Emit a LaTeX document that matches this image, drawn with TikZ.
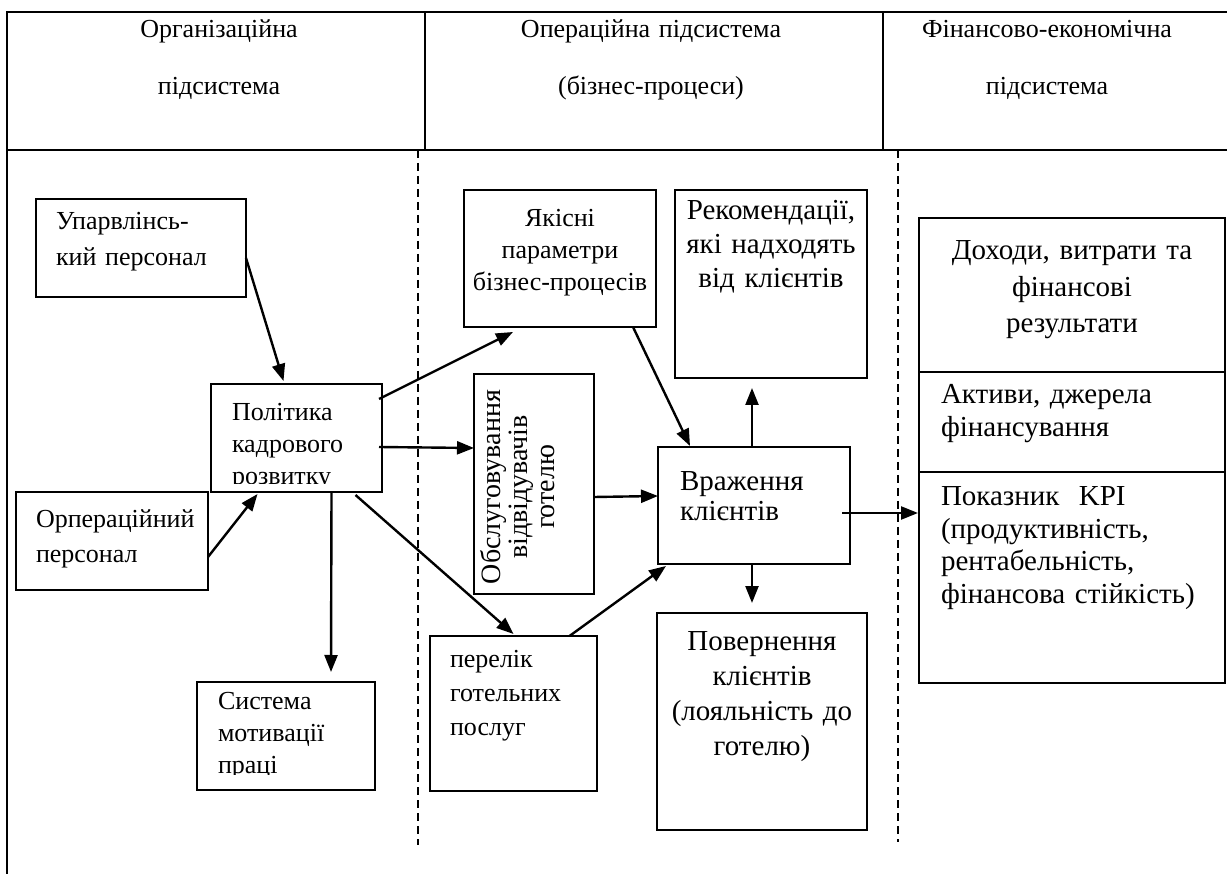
\documentclass[tikz,border=0pt]{standalone}
\usepackage{fontspec}
\setmainfont{Liberation Serif}
\usetikzlibrary{arrows.meta}
\begin{document}
\begin{tikzpicture}[x=1pt,y=-1pt,
  frame/.style={line width=2.2pt},
  sep/.style={line width=1.5pt,dash pattern=on 8pt off 5pt},
  box/.style={draw,line width=2pt,inner sep=0pt,outer sep=0pt},
  txt/.style={inner sep=0pt,outer sep=0pt,font=\fontsize{26}{#1}\selectfont,align=left,text width=200pt},
  ctxt/.style={inner sep=0pt,outer sep=0pt,font=\fontsize{26}{#1}\selectfont,align=center,text width=200pt},
  btxt/.style={inner sep=0pt,outer sep=0pt,font=\fontsize{29}{#1}\selectfont,align=left,text width=290pt},
  bctxt/.style={inner sep=0pt,outer sep=0pt,font=\fontsize{29}{#1}\selectfont,align=center,text width=300pt},
  htxt/.style={inner sep=0pt,outer sep=0pt,font=\fontsize{26}{57}\selectfont,align=center,text width=400pt},
  arr/.style={-{Triangle[length=17pt,width=13pt]},line width=2.4pt}]
\useasboundingbox (0,0) rectangle (1227,874);
% table frame
\draw[frame] (7,874) -- (7,12) -- (1227,12);
\draw[frame] (7,150) -- (1227,150);
\draw[frame] (425,12) -- (425,150);
\draw[frame] (883,12) -- (883,150);
% dashed separators
\draw[sep] (418,150) -- (418,845);
\draw[sep] (898,150) -- (898,842);
% header texts
\node[htxt,anchor=base] (h1) at (219,38) {Організаційна\\підсистема};
\node[htxt,anchor=base] (h2) at (651,38) {Операційна підсистема\\(бізнес-процеси)};
\node[htxt,anchor=base] (h3) at (1047,38) {Фінансово-економічна\\підсистема};
% boxes
\node[box,minimum width=210pt,minimum height=98pt] (upr) at (141,248) {};
\node[box,minimum width=171pt,minimum height=108pt] (pol) at (296.5,438) {};
\node[box,minimum width=192pt,minimum height=98pt] (orp) at (112,541) {};
\node[box,minimum width=178pt,minimum height=108pt] (sys) at (286,736) {};
\node[box,minimum width=192pt,minimum height=137pt] (yak) at (560,258.5) {};
\node[box,minimum width=192pt,minimum height=188pt] (rek) at (771,284) {};
\node[box,minimum width=120pt,minimum height=220pt] (obs) at (534,484) {};
\node[box,minimum width=192pt,minimum height=117pt] (vr) at (754,505.5) {};
\node[box,minimum width=167pt,minimum height=155pt] (per) at (513.5,713.5) {};
\node[box,minimum width=210pt,minimum height=217pt] (pov) at (762,721.5) {};
\node[box,minimum width=306pt,minimum height=465pt] (fin) at (1072,450.5) {};
\draw[line width=2pt] ([yshift=-154pt]fin.north west) -- ([yshift=-154pt]fin.north east);
\draw[line width=2pt] ([yshift=-254pt]fin.north west) -- ([yshift=-254pt]fin.north east);
% texts
\node[txt=36,anchor=base west] (uprt) at (56,230) {Упарвлінсь-\\кий персонал};
\begin{scope}
\clip (211,384) rectangle (382,484);
\node[txt=32,anchor=base west] (polt) at (232,421) {Політика\\кадрового\\розвитку};
\end{scope}
\node[txt=35,anchor=base west] (orpt) at (36,528) {Орпераційний\\персонал};
\begin{scope}
\clip (197,682) rectangle (375,774);
\node[txt=32,anchor=base west] (syst) at (218,709) {Система\\мотивації\\праці};
\end{scope}
\node[ctxt=32,anchor=base] (yakt) at (560,227) {Якісні\\параметри\\бізнес-процесів};
\node[bctxt=34,anchor=base] (rekt) at (771,220) {Рекомендації,\\які надходять\\від клієнтів};
\node[inner sep=0pt,font=\fontsize{28}{27}\selectfont,align=center,rotate=90] (obst) at (518,487) {Обслуговування\\відвідувачів\\готелю};
\node[btxt=31,anchor=base west] (vrt) at (680,490) {Враження\\клієнтів};
\node[txt=34,anchor=base west] (pert) at (450,667) {перелік\\готельних\\послуг};
\node[bctxt=35,anchor=base] (povt) at (762,650) {Повернення\\клієнтів\\(лояльність до\\готелю)};
\node[bctxt=36.5,anchor=base] (fint1) at (1072,260) {Доходи, витрати та\\фінансові\\результати};
\node[btxt=33,anchor=base west] (fint2) at (941,404) {Активи, джерела\\фінансування};
\node[btxt=33,anchor=base west] (fint3) at (941,505) {Показник~~KPI\\(продуктивність,\\рентабельність,\\фінансова стійкість)};
% arrows
\draw[arr] ([yshift=-10pt]upr.east) -- ([xshift=-13pt,yshift=3pt]pol.north);
\draw[arr] ([yshift=-16pt]orp.east) -- ([xshift=-39pt,yshift=-2pt]pol.south);
\draw[arr] ([xshift=-3pt,yshift=39pt]pol.east) -- ([xshift=-47pt,yshift=-5pt]yak.south);
\draw[arr] ([xshift=-3pt,yshift=-9pt]pol.east) -- ([yshift=36pt]obs.west);
\draw[arr] ([xshift=35pt]pol.south) -- ([xshift=45pt,yshift=10pt]sys.north);
\draw[arr] ([xshift=59pt,yshift=-3pt]pol.south) -- ([yshift=2pt]per.north);
\draw[arr] ([yshift=-13pt]obs.east) -- ([yshift=9.5pt]vr.west);
\draw[arr] ([xshift=73pt]yak.south) -- ([xshift=-64pt,yshift=1pt]vr.north);
\draw[arr] ([xshift=56pt]per.north) -- ([xshift=-88pt,yshift=-2pt]vr.south);
\draw[arr] ([xshift=-2pt]vr.north) -- ([xshift=-19pt,yshift=-10pt]rek.south);
\draw[arr] ([xshift=-2pt]vr.south) -- ([xshift=-10pt,yshift=10pt]pov.north);
\draw[arr] ([xshift=-8pt,yshift=-7.5pt]vr.east) -- ([xshift=-1pt,yshift=-62.5pt]fin.west);
\end{tikzpicture}
\end{document}
